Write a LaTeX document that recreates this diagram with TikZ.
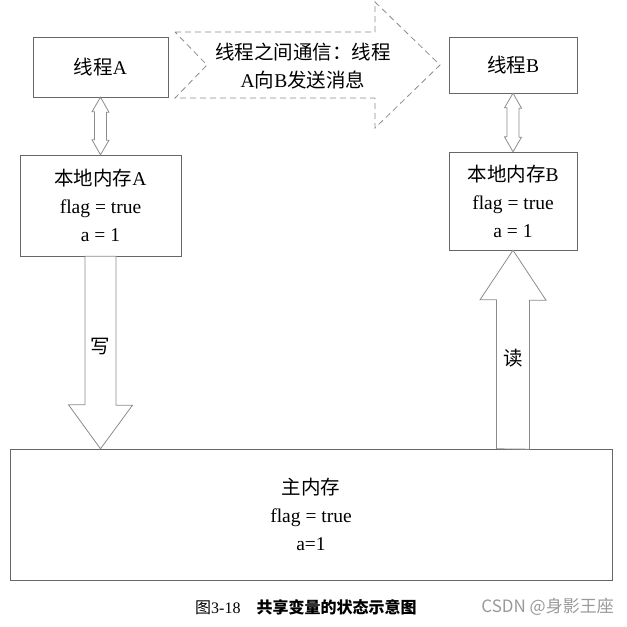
\documentclass[tikz,border=0pt]{standalone}
\usepackage{fontspec}
\setmainfont{Liberation Serif}
\newfontfamily\cjk{Noto Sans CJK SC}
\usetikzlibrary{calc}

\begin{document}
\begin{tikzpicture}[
        x=1pt, y=-1pt,
        box/.style={draw=gray!80!black, rectangle, align=center, inner sep=0pt, font=\fontsize{19.5}{28}\selectfont},
        label/.style={align=center, inner sep=0pt, font=\fontsize{19.5}{28}\selectfont},
        fatarrow/.style={draw=gray!90, line width=0.8pt, fill=white},
        msgarrow/.style={draw=gray!90, dash pattern=on 6pt off 4pt, line width=0.8pt}
    ]

    \useasboundingbox (0,0) rectangle (627,627);

    % threads and their local memories
    \node[box, minimum width=135, minimum height=60] (threadA) at (100.5,67) {{\cjk 线程}A};
    \node[box, minimum width=128, minimum height=56] (threadB) at (513,65) {{\cjk 线程}B};
    \node[box, minimum width=161, minimum height=101] (memA) at (100.5,205.5) {{\cjk 本地内存}A\\flag = true\\a = 1};
    \node[box, minimum width=128, minimum height=98] (memB) at (513,201) {{\cjk 本地内存}B\\flag = true\\a = 1};
    \node[box, minimum width=602, minimum height=131] (mainmem) at (311,514.5) {{\cjk 主内存}\\flag = true\\a=1};

    % message between the threads
    \draw[msgarrow] (175,32) -- (375,32) -- (375,2) -- (440,65) -- (375,128) -- (375,98) -- (175,98) -- (207,65) -- cycle;
    \node[label] (msg) at (303,66) {{\cjk 线程之间通信：线程}\\A{\cjk 向}B{\cjk 发送消息}};

    % thread <-> local memory
    \draw[fatarrow] (threadA.south) -- ++(8.5,15) -- ++(-2.5,0) -- ++(0,28) -- ++(2.5,0) -- (memA.north)
        -- ++(-8.5,-15) -- ++(2.5,0) -- ++(0,-28) -- ++(-2.5,0) -- cycle;
    \draw[fatarrow] (threadB.south) -- ++(8.5,15) -- ++(-2.5,0) -- ++(0,29) -- ++(2.5,0) -- (memB.north)
        -- ++(-8.5,-15) -- ++(2.5,0) -- ++(0,-29) -- ++(-2.5,0) -- cycle;

    % write and read
    \draw[fatarrow] ($(memA.south)+(-15.5,0)$) -- ++(31,0) -- ++(0,149) -- ++(16.5,0) -- (memA.south |- mainmem.north)
        -- ++(-32,-44) -- ++(16.5,0) -- cycle;
    \node[label] (write) at (100,347) {\cjk 写};
    \draw[fatarrow] ($(memB.south |- mainmem.north)+(-16.5,0)$) -- ++(0,-149) -- ++(-16.5,0) -- (memB.south)
        -- ++(33,50) -- ++(-16.5,0) -- ++(0,149) -- cycle;
    \node[label] (read) at (513,358) {\cjk 读};

    % caption
    \node[anchor=west, inner sep=0pt, font=\fontsize{16}{18}\selectfont] (caption) at (195,607)
        {{\cjk 图}3-18\quad{\cjk\bfseries 共享变量的状态示意图}};
    \node[anchor=east, inner sep=0pt, text=gray!80, font=\cjk\fontsize{17}{20}\selectfont] (mark) at (614,607) {CSDN @身影王座};

\end{tikzpicture}
\end{document}
